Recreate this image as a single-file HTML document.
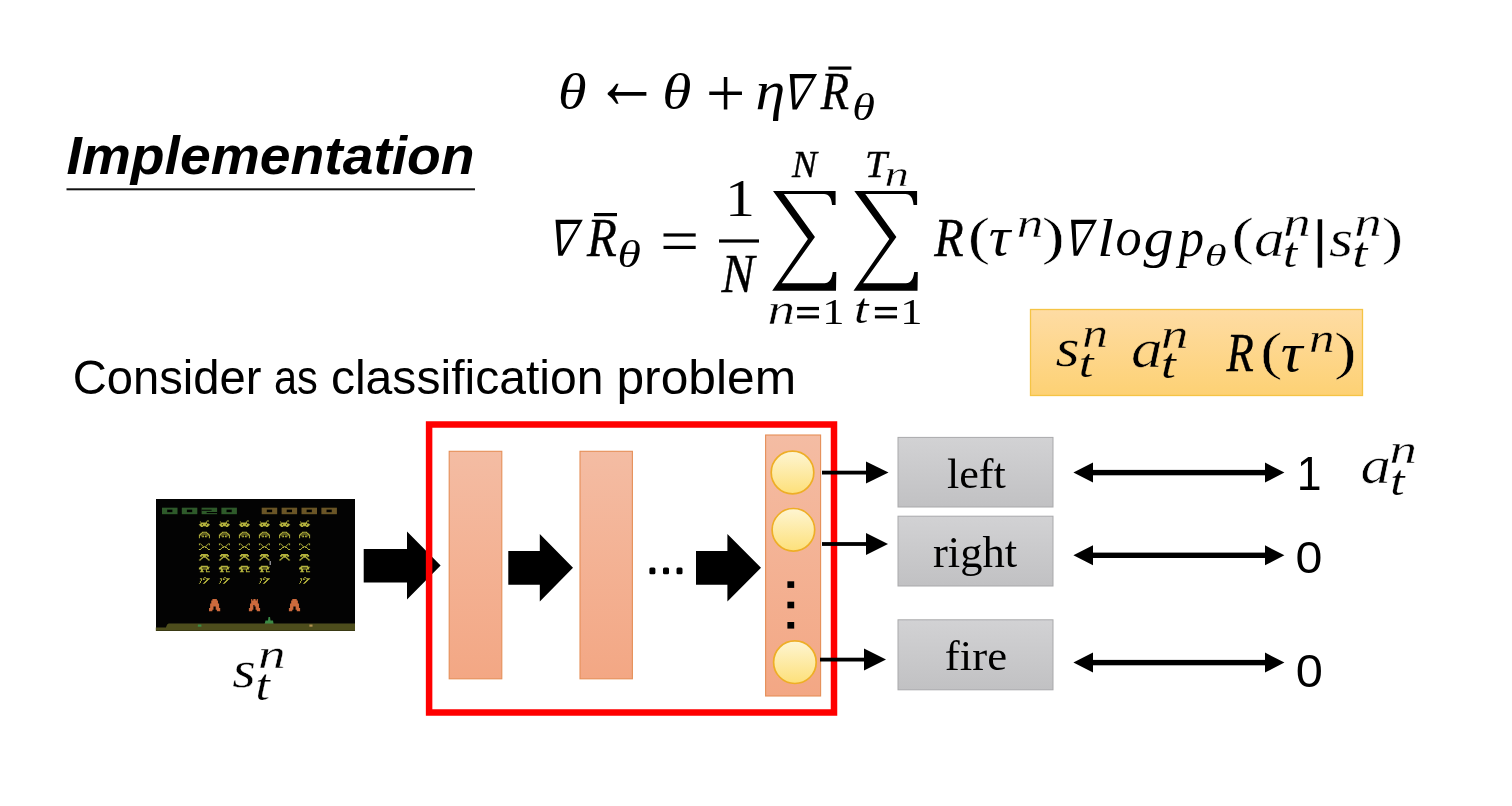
<!DOCTYPE html>
<html><head><meta charset="utf-8"><style>
html,body{margin:0;padding:0;background:#fff;width:1512px;height:806px;overflow:hidden}
svg{display:block;will-change:transform}
</style></head><body>
<svg width="1512" height="806" viewBox="0 0 1512 806">
<defs>
<filter id="bl" x="-0.1" y="-0.1" width="1.2" height="1.2"><feGaussianBlur stdDeviation="0.45"/></filter>
<linearGradient id="gy" x1="0" y1="0" x2="0" y2="1"><stop offset="0" stop-color="#fedca4"/><stop offset="1" stop-color="#fdd174"/></linearGradient>
<linearGradient id="gyu" gradientUnits="userSpaceOnUse" x1="0" y1="309.5" x2="0" y2="395.5"><stop offset="0" stop-color="#fedca4"/><stop offset="1" stop-color="#fdd174"/></linearGradient>
<linearGradient id="go" x1="0" y1="0" x2="0" y2="1"><stop offset="0" stop-color="#f4bca3"/><stop offset="1" stop-color="#f3a784"/></linearGradient>
<linearGradient id="gc" x1="0" y1="0" x2="0" y2="1"><stop offset="0" stop-color="#fef5d2"/><stop offset="1" stop-color="#fde07a"/></linearGradient>
<linearGradient id="gg" x1="0" y1="0" x2="0" y2="1"><stop offset="0" stop-color="#d2d2d4"/><stop offset="1" stop-color="#c1c1c3"/></linearGradient>
</defs>
<rect width="1512" height="806" fill="#fff"/>
<text transform="matrix(0.27626 0 0 0.27273 66.39 174.05)" font-family='"Liberation Sans"' font-style="italic" font-weight="bold" font-size="200" fill="#000">Implementation</text>
<rect x="66.50" y="188.30" width="408.50" height="2.00" fill="#111" />
<text transform="matrix(0.29048 0 0 0.25282 558.10 109.19)" font-family='"Liberation Serif"' font-style="italic" font-weight="normal" font-size="200" fill="#000">θ</text>
<text transform="matrix(0.32712 0 0 0.42609 594.29 108.16)" font-family='"Liberation Serif"' font-style="normal" font-weight="normal" font-size="200" fill="#000">←</text>
<text transform="matrix(0.29643 0 0 0.25282 662.34 109.19)" font-family='"Liberation Serif"' font-style="italic" font-weight="normal" font-size="200" fill="#000">θ</text>
<text transform="matrix(0.35161 0 0 0.34681 705.78 117.19)" font-family='"Liberation Serif"' font-style="normal" font-weight="normal" font-size="200" fill="#000">+</text>
<text transform="matrix(0.30000 0 0 0.27007 755.40 109.39)" font-family='"Liberation Serif"' font-style="italic" font-weight="normal" font-size="200" fill="#000">η</text>
<path fill-rule="evenodd" fill="#000" d="M789.70,74.10 L817.10,74.10 L796.90,109.60 L792.50,109.60 Z M794.60,78.20 L812.20,78.20 L795.70,105.10 Z"/>
<text transform="matrix(0.23167 0 0 0.26855 820.73 109.44)" font-family='"Liberation Serif"' font-style="italic" font-weight="normal" font-size="200" fill="#000" stroke="#000" stroke-width="1.489" stroke-linejoin="round">R</text>
<rect x="828.40" y="66.50" width="23.00" height="3.20" fill="#000" />
<text transform="matrix(0.23095 0 0 0.19014 852.29 119.62)" font-family='"Liberation Serif"' font-style="italic" font-weight="normal" font-size="200" fill="#000">θ</text>
<path fill-rule="evenodd" fill="#000" d="M555.50,219.80 L582.80,219.80 L562.67,255.80 L558.29,255.80 Z M560.38,223.96 L577.92,223.96 L561.48,251.24 Z"/>
<text transform="matrix(0.24417 0 0 0.27237 587.04 255.64)" font-family='"Liberation Serif"' font-style="italic" font-weight="normal" font-size="200" fill="#000" stroke="#000" stroke-width="1.469" stroke-linejoin="round">R</text>
<rect x="594.00" y="213.00" width="23.00" height="3.20" fill="#000" />
<text transform="matrix(0.23810 0 0 0.19366 617.62 267.11)" font-family='"Liberation Serif"' font-style="italic" font-weight="normal" font-size="200" fill="#000">θ</text>
<rect x="663.50" y="233.40" width="32.20" height="3.20" fill="#000" />
<rect x="663.50" y="245.80" width="32.20" height="3.20" fill="#000" />
<text transform="matrix(0.30000 0 0 0.26212 724.90 215.90)" font-family='"Liberation Serif"' font-style="normal" font-weight="normal" font-size="200" fill="#000">1</text>
<rect x="719.00" y="239.40" width="40.00" height="3.20" fill="#000" />
<text transform="matrix(0.24722 0 0 0.27084 721.45 291.64)" font-family='"Liberation Serif"' font-style="italic" font-weight="normal" font-size="200" fill="#000" stroke="#000" stroke-width="1.477" stroke-linejoin="round">N</text>
<path fill="#000" d="M773.00,191.00 L835.60,191.00 L835.60,205.00 L832.01,205.00 C831.51,198.00 829.02,193.90 824.04,193.90 L783.96,193.90 L814.97,237.00 L781.77,283.30 L824.54,283.30 C829.02,283.30 832.01,279.00 832.71,272.00 L836.30,272.00 L836.00,290.80 L772.20,290.80 L807.89,238.90 Z"/>
<path fill="#000" d="M854.30,191.00 L917.10,191.00 L917.10,205.00 L913.50,205.00 C913.00,198.00 910.50,193.90 905.50,193.90 L865.30,193.90 L896.40,237.00 L863.10,283.30 L906.00,283.30 C910.50,283.30 913.50,279.00 914.20,272.00 L917.80,272.00 L917.50,290.80 L853.50,290.80 L889.30,238.90 Z"/>
<text transform="matrix(0.18681 0 0 0.18458 791.99 177.24)" font-family='"Liberation Serif"' font-style="italic" font-weight="normal" font-size="200" fill="#000" stroke="#000" stroke-width="2.167" stroke-linejoin="round">N</text>
<text transform="matrix(0.19818 0 0 0.18458 865.12 177.24)" font-family='"Liberation Serif"' font-style="italic" font-weight="normal" font-size="200" fill="#000" stroke="#000" stroke-width="2.167" stroke-linejoin="round">T</text>
<text transform="matrix(0.24471 0 0 0.17574 884.59 185.86)" font-family='"Liberation Serif"' font-style="italic" font-weight="normal" font-size="200" fill="#000" stroke="#fff" stroke-width="2.276">n</text>
<text transform="matrix(0.27529 0 0 0.21830 767.47 323.86)" font-family='"Liberation Serif"' font-style="italic" font-weight="normal" font-size="200" fill="#000" stroke="#fff" stroke-width="1.832">n</text>
<rect x="797.10" y="306.90" width="21.90" height="3.30" fill="#000" />
<rect x="797.10" y="315.30" width="21.90" height="3.10" fill="#000" />
<text transform="matrix(0.22254 0 0 0.18258 822.32 323.70)" font-family='"Liberation Serif"' font-style="normal" font-weight="normal" font-size="200" fill="#000">1</text>
<text transform="matrix(0.25980 0 0 0.21061 854.09 323.34)" font-family='"Liberation Serif"' font-style="italic" font-weight="normal" font-size="200" fill="#000" stroke="#fff" stroke-width="0.712">t</text>
<rect x="874.90" y="306.90" width="22.10" height="3.30" fill="#000" />
<rect x="874.90" y="315.30" width="22.10" height="3.10" fill="#000" />
<text transform="matrix(0.22254 0 0 0.18258 900.32 323.70)" font-family='"Liberation Serif"' font-style="normal" font-weight="normal" font-size="200" fill="#000">1</text>
<text transform="matrix(0.24083 0 0 0.27618 934.14 256.14)" font-family='"Liberation Serif"' font-style="italic" font-weight="normal" font-size="200" fill="#000" stroke="#000" stroke-width="1.448" stroke-linejoin="round">R</text>
<text transform="matrix(0.33725 0 0 0.26758 967.71 253.69)" font-family='"Liberation Serif"' font-style="normal" font-weight="normal" font-size="200" fill="#000" stroke="#fff" stroke-width="1.869">(</text>
<text transform="matrix(0.30135 0 0 0.27660 988.79 255.45)" font-family='"Liberation Serif"' font-style="italic" font-weight="normal" font-size="200" fill="#000">τ</text>
<text transform="matrix(0.26588 0 0 0.21404 1016.64 237.46)" font-family='"Liberation Serif"' font-style="italic" font-weight="normal" font-size="200" fill="#000" stroke="#fff" stroke-width="1.869">n</text>
<text transform="matrix(0.34615 0 0 0.26758 1041.67 253.69)" font-family='"Liberation Serif"' font-style="normal" font-weight="normal" font-size="200" fill="#000" stroke="#fff" stroke-width="1.869">)</text>
<path fill-rule="evenodd" fill="#000" d="M1071.00,219.80 L1097.00,219.80 L1077.83,255.80 L1073.66,255.80 Z M1075.65,223.96 L1092.35,223.96 L1076.69,251.24 Z"/>
<text transform="matrix(0.29750 0 0 0.26619 1097.13 256.00)" font-family='"Liberation Serif"' font-style="italic" font-weight="normal" font-size="200" fill="#000">l</text>
<text transform="matrix(0.26136 0 0 0.27083 1115.43 255.46)" font-family='"Liberation Serif"' font-style="italic" font-weight="normal" font-size="200" fill="#000">o</text>
<text transform="matrix(0.30213 0 0 0.27737 1143.60 256.07)" font-family='"Liberation Serif"' font-style="italic" font-weight="normal" font-size="200" fill="#000">g</text>
<text transform="matrix(0.25283 0 0 0.27737 1178.73 256.07)" font-family='"Liberation Serif"' font-style="italic" font-weight="normal" font-size="200" fill="#000">p</text>
<text transform="matrix(0.22262 0 0 0.15669 1204.77 265.69)" font-family='"Liberation Serif"' font-style="italic" font-weight="normal" font-size="200" fill="#000">θ</text>
<text transform="matrix(0.34314 0 0 0.26593 1231.26 253.76)" font-family='"Liberation Serif"' font-style="normal" font-weight="normal" font-size="200" fill="#000" stroke="#fff" stroke-width="1.880">(</text>
<text transform="matrix(0.30756 0 0 0.26500 1253.88 256.09)" font-family='"Liberation Serif"' font-style="italic" font-weight="normal" font-size="200" fill="#000" stroke="#fff" stroke-width="2.075">a</text>
<text transform="matrix(0.27529 0 0 0.20447 1283.37 236.36)" font-family='"Liberation Serif"' font-style="italic" font-weight="normal" font-size="200" fill="#000" stroke="#fff" stroke-width="1.956">n</text>
<text transform="matrix(0.25588 0 0 0.21148 1283.12 267.34)" font-family='"Liberation Serif"' font-style="italic" font-weight="normal" font-size="200" fill="#000" stroke="#fff" stroke-width="0.709">t</text>
<rect x="1317.70" y="219.30" width="4.50" height="48.40" fill="#000" />
<text transform="matrix(0.31000 0 0 0.26792 1328.88 256.02)" font-family='"Liberation Serif"' font-style="italic" font-weight="normal" font-size="200" fill="#000" stroke="#fff" stroke-width="1.493">s</text>
<text transform="matrix(0.27529 0 0 0.20447 1354.17 236.36)" font-family='"Liberation Serif"' font-style="italic" font-weight="normal" font-size="200" fill="#000" stroke="#fff" stroke-width="1.956">n</text>
<text transform="matrix(0.27157 0 0 0.21148 1352.18 267.34)" font-family='"Liberation Serif"' font-style="italic" font-weight="normal" font-size="200" fill="#000" stroke="#fff" stroke-width="0.709">t</text>
<text transform="matrix(0.32115 0 0 0.26758 1381.82 254.29)" font-family='"Liberation Serif"' font-style="normal" font-weight="normal" font-size="200" fill="#000" stroke="#fff" stroke-width="1.869">)</text>
<rect x="1030.5" y="309.5" width="332" height="86" fill="url(#gy)" stroke="#f5c445" stroke-width="1.3"/>
<text transform="matrix(0.31000 0 0 0.27208 1055.58 366.22)" font-family='"Liberation Serif"' font-style="italic" font-weight="normal" font-size="200" fill="#000" stroke="#fdd68b" stroke-width="1.470">s</text>
<text transform="matrix(0.25765 0 0 0.21404 1082.20 347.36)" font-family='"Liberation Serif"' font-style="italic" font-weight="normal" font-size="200" fill="#000" stroke="#fed894" stroke-width="1.869">n</text>
<text transform="matrix(0.26569 0 0 0.20365 1078.73 377.15)" font-family='"Liberation Serif"' font-style="italic" font-weight="normal" font-size="200" fill="#000" stroke="#fdd585" stroke-width="0.737">t</text>
<text transform="matrix(0.31686 0 0 0.27333 1131.12 367.27)" font-family='"Liberation Serif"' font-style="italic" font-weight="normal" font-size="200" fill="#000" stroke="#fdd68b" stroke-width="2.012">a</text>
<text transform="matrix(0.27412 0 0 0.20872 1160.88 347.86)" font-family='"Liberation Serif"' font-style="italic" font-weight="normal" font-size="200" fill="#000" stroke="#fed894" stroke-width="1.916">n</text>
<text transform="matrix(0.26765 0 0 0.20800 1161.02 378.14)" font-family='"Liberation Serif"' font-style="italic" font-weight="normal" font-size="200" fill="#000" stroke="#fdd584" stroke-width="0.721">t</text>
<text transform="matrix(0.22333 0 0 0.26931 1226.42 371.44)" font-family='"Liberation Serif"' font-style="italic" font-weight="normal" font-size="200" fill="#000" stroke="#000" stroke-width="1.485" stroke-linejoin="round">R</text>
<text transform="matrix(0.33137 0 0 0.26868 1260.17 369.15)" font-family='"Liberation Serif"' font-style="normal" font-weight="normal" font-size="200" fill="#000" stroke="#fdd68a" stroke-width="1.861">(</text>
<text transform="matrix(0.30405 0 0 0.27234 1280.68 371.06)" font-family='"Liberation Serif"' font-style="italic" font-weight="normal" font-size="200" fill="#000">τ</text>
<text transform="matrix(0.25529 0 0 0.21404 1309.01 351.96)" font-family='"Liberation Serif"' font-style="italic" font-weight="normal" font-size="200" fill="#000" stroke="#fed892" stroke-width="1.869">n</text>
<text transform="matrix(0.33846 0 0 0.26868 1334.12 369.15)" font-family='"Liberation Serif"' font-style="normal" font-weight="normal" font-size="200" fill="#000" stroke="#fdd68a" stroke-width="1.861">)</text>
<text transform="matrix(0.23590 0 0 0.24250 72.74 394.00)" font-family='"Liberation Sans"' font-style="normal" font-weight="normal" font-size="200" fill="#000" >Consider</text>
<text transform="matrix(0.20765 0 0 0.24250 273.94 394.00)" font-family='"Liberation Sans"' font-style="normal" font-weight="normal" font-size="200" fill="#000" >as</text>
<text transform="matrix(0.24052 0 0 0.24250 330.88 394.00)" font-family='"Liberation Sans"' font-style="normal" font-weight="normal" font-size="200" fill="#000" >classification</text>
<text transform="matrix(0.24864 0 0 0.24250 616.47 394.00)" font-family='"Liberation Sans"' font-style="normal" font-weight="normal" font-size="200" fill="#000" >problem</text>
<rect x="156.00" y="499.00" width="199.00" height="132.00" fill="#030303" />
<g filter="url(#bl)">
<rect x="162.0" y="507.7" width="15.5" height="6.5" fill="#2e5a2a"/><rect x="167.1" y="509.6" width="5.3" height="2.6" fill="#050505"/>
<rect x="181.8" y="507.7" width="15.5" height="6.5" fill="#2e5a2a"/><rect x="186.9" y="509.6" width="5.3" height="2.6" fill="#050505"/>
<rect x="201.6" y="507.7" width="15.5" height="6.5" fill="#2e5a2a"/><rect x="201.6" y="509.7" width="10" height="1.1" fill="#050505"/><rect x="206.6" y="512" width="10.5" height="1.1" fill="#050505"/>
<rect x="221.4" y="507.7" width="15.5" height="6.5" fill="#2e5a2a"/><rect x="226.5" y="509.6" width="5.3" height="2.6" fill="#050505"/>
<rect x="261.7" y="507.7" width="15.5" height="6.5" fill="#6a5526"/><rect x="266.8" y="509.6" width="5.3" height="2.6" fill="#050505"/>
<rect x="281.59999999999997" y="507.7" width="15.5" height="6.5" fill="#6a5526"/><rect x="286.7" y="509.6" width="5.3" height="2.6" fill="#050505"/>
<rect x="301.5" y="507.7" width="15.5" height="6.5" fill="#6a5526"/><rect x="306.6" y="509.6" width="5.3" height="2.6" fill="#050505"/>
<rect x="321.4" y="507.7" width="15.5" height="6.5" fill="#6a5526"/><rect x="326.5" y="509.6" width="5.3" height="2.6" fill="#050505"/>
<path fill="#b4b23c" d="M206.90,520.60h2.00v0.93h-2.00zM199.90,521.53h1.00v0.93h-1.00zM205.90,521.53h1.00v0.93h-1.00zM200.90,522.46h6.00v0.93h-6.00zM199.90,523.39h9.00v0.93h-9.00zM198.90,524.32h3.00v0.93h-3.00zM202.90,524.32h3.00v0.93h-3.00zM206.90,524.32h3.00v0.93h-3.00zM199.90,525.25h9.00v0.93h-9.00zM200.90,526.18h2.00v0.93h-2.00zM205.90,526.18h2.00v0.93h-2.00z"/>
<path fill="#b4b23c" d="M226.90,520.60h2.00v0.93h-2.00zM219.90,521.53h1.00v0.93h-1.00zM225.90,521.53h1.00v0.93h-1.00zM220.90,522.46h6.00v0.93h-6.00zM219.90,523.39h9.00v0.93h-9.00zM218.90,524.32h3.00v0.93h-3.00zM222.90,524.32h3.00v0.93h-3.00zM226.90,524.32h3.00v0.93h-3.00zM219.90,525.25h9.00v0.93h-9.00zM220.90,526.18h2.00v0.93h-2.00zM225.90,526.18h2.00v0.93h-2.00z"/>
<path fill="#b4b23c" d="M246.90,520.60h2.00v0.93h-2.00zM239.90,521.53h1.00v0.93h-1.00zM245.90,521.53h1.00v0.93h-1.00zM240.90,522.46h6.00v0.93h-6.00zM239.90,523.39h9.00v0.93h-9.00zM238.90,524.32h3.00v0.93h-3.00zM242.90,524.32h3.00v0.93h-3.00zM246.90,524.32h3.00v0.93h-3.00zM239.90,525.25h9.00v0.93h-9.00zM240.90,526.18h2.00v0.93h-2.00zM245.90,526.18h2.00v0.93h-2.00z"/>
<path fill="#b4b23c" d="M266.90,520.60h2.00v0.93h-2.00zM259.90,521.53h1.00v0.93h-1.00zM265.90,521.53h1.00v0.93h-1.00zM260.90,522.46h6.00v0.93h-6.00zM259.90,523.39h9.00v0.93h-9.00zM258.90,524.32h3.00v0.93h-3.00zM262.90,524.32h3.00v0.93h-3.00zM266.90,524.32h3.00v0.93h-3.00zM259.90,525.25h9.00v0.93h-9.00zM260.90,526.18h2.00v0.93h-2.00zM265.90,526.18h2.00v0.93h-2.00z"/>
<path fill="#b4b23c" d="M287.10,520.60h2.00v0.93h-2.00zM280.10,521.53h1.00v0.93h-1.00zM286.10,521.53h1.00v0.93h-1.00zM281.10,522.46h6.00v0.93h-6.00zM280.10,523.39h9.00v0.93h-9.00zM279.10,524.32h3.00v0.93h-3.00zM283.10,524.32h3.00v0.93h-3.00zM287.10,524.32h3.00v0.93h-3.00zM280.10,525.25h9.00v0.93h-9.00zM281.10,526.18h2.00v0.93h-2.00zM286.10,526.18h2.00v0.93h-2.00z"/>
<path fill="#b4b23c" d="M307.10,520.60h2.00v0.93h-2.00zM300.10,521.53h1.00v0.93h-1.00zM306.10,521.53h1.00v0.93h-1.00zM301.10,522.46h6.00v0.93h-6.00zM300.10,523.39h9.00v0.93h-9.00zM299.10,524.32h3.00v0.93h-3.00zM303.10,524.32h3.00v0.93h-3.00zM307.10,524.32h3.00v0.93h-3.00zM300.10,525.25h9.00v0.93h-9.00zM301.10,526.18h2.00v0.93h-2.00zM306.10,526.18h2.00v0.93h-2.00z"/>
<path fill="#b4b23c" d="M201.90,531.70h5.00v0.93h-5.00zM200.90,532.63h2.00v0.93h-2.00zM205.90,532.63h2.00v0.93h-2.00zM199.90,533.56h2.00v0.93h-2.00zM202.90,533.56h3.00v0.93h-3.00zM206.90,533.56h2.00v0.93h-2.00zM198.90,534.49h2.00v0.93h-2.00zM201.90,534.49h1.00v0.93h-1.00zM205.90,534.49h1.00v0.93h-1.00zM207.90,534.49h2.00v0.93h-2.00zM198.90,535.42h1.00v0.93h-1.00zM200.90,535.42h1.00v0.93h-1.00zM202.90,535.42h1.00v0.93h-1.00zM204.90,535.42h1.00v0.93h-1.00zM206.90,535.42h1.00v0.93h-1.00zM208.90,535.42h1.00v0.93h-1.00zM198.90,536.35h1.00v0.93h-1.00zM201.90,536.35h2.00v0.93h-2.00zM204.90,536.35h2.00v0.93h-2.00zM208.90,536.35h1.00v0.93h-1.00zM198.90,537.28h1.00v0.93h-1.00zM208.90,537.28h1.00v0.93h-1.00z"/>
<path fill="#b4b23c" d="M221.90,531.70h5.00v0.93h-5.00zM220.90,532.63h2.00v0.93h-2.00zM225.90,532.63h2.00v0.93h-2.00zM219.90,533.56h2.00v0.93h-2.00zM222.90,533.56h3.00v0.93h-3.00zM226.90,533.56h2.00v0.93h-2.00zM218.90,534.49h2.00v0.93h-2.00zM221.90,534.49h1.00v0.93h-1.00zM225.90,534.49h1.00v0.93h-1.00zM227.90,534.49h2.00v0.93h-2.00zM218.90,535.42h1.00v0.93h-1.00zM220.90,535.42h1.00v0.93h-1.00zM222.90,535.42h1.00v0.93h-1.00zM224.90,535.42h1.00v0.93h-1.00zM226.90,535.42h1.00v0.93h-1.00zM228.90,535.42h1.00v0.93h-1.00zM218.90,536.35h1.00v0.93h-1.00zM221.90,536.35h2.00v0.93h-2.00zM224.90,536.35h2.00v0.93h-2.00zM228.90,536.35h1.00v0.93h-1.00zM218.90,537.28h1.00v0.93h-1.00zM228.90,537.28h1.00v0.93h-1.00z"/>
<path fill="#b4b23c" d="M241.90,531.70h5.00v0.93h-5.00zM240.90,532.63h2.00v0.93h-2.00zM245.90,532.63h2.00v0.93h-2.00zM239.90,533.56h2.00v0.93h-2.00zM242.90,533.56h3.00v0.93h-3.00zM246.90,533.56h2.00v0.93h-2.00zM238.90,534.49h2.00v0.93h-2.00zM241.90,534.49h1.00v0.93h-1.00zM245.90,534.49h1.00v0.93h-1.00zM247.90,534.49h2.00v0.93h-2.00zM238.90,535.42h1.00v0.93h-1.00zM240.90,535.42h1.00v0.93h-1.00zM242.90,535.42h1.00v0.93h-1.00zM244.90,535.42h1.00v0.93h-1.00zM246.90,535.42h1.00v0.93h-1.00zM248.90,535.42h1.00v0.93h-1.00zM238.90,536.35h1.00v0.93h-1.00zM241.90,536.35h2.00v0.93h-2.00zM244.90,536.35h2.00v0.93h-2.00zM248.90,536.35h1.00v0.93h-1.00zM238.90,537.28h1.00v0.93h-1.00zM248.90,537.28h1.00v0.93h-1.00z"/>
<path fill="#b4b23c" d="M261.90,531.70h5.00v0.93h-5.00zM260.90,532.63h2.00v0.93h-2.00zM265.90,532.63h2.00v0.93h-2.00zM259.90,533.56h2.00v0.93h-2.00zM262.90,533.56h3.00v0.93h-3.00zM266.90,533.56h2.00v0.93h-2.00zM258.90,534.49h2.00v0.93h-2.00zM261.90,534.49h1.00v0.93h-1.00zM265.90,534.49h1.00v0.93h-1.00zM267.90,534.49h2.00v0.93h-2.00zM258.90,535.42h1.00v0.93h-1.00zM260.90,535.42h1.00v0.93h-1.00zM262.90,535.42h1.00v0.93h-1.00zM264.90,535.42h1.00v0.93h-1.00zM266.90,535.42h1.00v0.93h-1.00zM268.90,535.42h1.00v0.93h-1.00zM258.90,536.35h1.00v0.93h-1.00zM261.90,536.35h2.00v0.93h-2.00zM264.90,536.35h2.00v0.93h-2.00zM268.90,536.35h1.00v0.93h-1.00zM258.90,537.28h1.00v0.93h-1.00zM268.90,537.28h1.00v0.93h-1.00z"/>
<path fill="#b4b23c" d="M282.10,531.70h5.00v0.93h-5.00zM281.10,532.63h2.00v0.93h-2.00zM286.10,532.63h2.00v0.93h-2.00zM280.10,533.56h2.00v0.93h-2.00zM283.10,533.56h3.00v0.93h-3.00zM287.10,533.56h2.00v0.93h-2.00zM279.10,534.49h2.00v0.93h-2.00zM282.10,534.49h1.00v0.93h-1.00zM286.10,534.49h1.00v0.93h-1.00zM288.10,534.49h2.00v0.93h-2.00zM279.10,535.42h1.00v0.93h-1.00zM281.10,535.42h1.00v0.93h-1.00zM283.10,535.42h1.00v0.93h-1.00zM285.10,535.42h1.00v0.93h-1.00zM287.10,535.42h1.00v0.93h-1.00zM289.10,535.42h1.00v0.93h-1.00zM279.10,536.35h1.00v0.93h-1.00zM282.10,536.35h2.00v0.93h-2.00zM285.10,536.35h2.00v0.93h-2.00zM289.10,536.35h1.00v0.93h-1.00zM279.10,537.28h1.00v0.93h-1.00zM289.10,537.28h1.00v0.93h-1.00z"/>
<path fill="#b4b23c" d="M302.10,531.70h5.00v0.93h-5.00zM301.10,532.63h2.00v0.93h-2.00zM306.10,532.63h2.00v0.93h-2.00zM300.10,533.56h2.00v0.93h-2.00zM303.10,533.56h3.00v0.93h-3.00zM307.10,533.56h2.00v0.93h-2.00zM299.10,534.49h2.00v0.93h-2.00zM302.10,534.49h1.00v0.93h-1.00zM306.10,534.49h1.00v0.93h-1.00zM308.10,534.49h2.00v0.93h-2.00zM299.10,535.42h1.00v0.93h-1.00zM301.10,535.42h1.00v0.93h-1.00zM303.10,535.42h1.00v0.93h-1.00zM305.10,535.42h1.00v0.93h-1.00zM307.10,535.42h1.00v0.93h-1.00zM309.10,535.42h1.00v0.93h-1.00zM299.10,536.35h1.00v0.93h-1.00zM302.10,536.35h2.00v0.93h-2.00zM305.10,536.35h2.00v0.93h-2.00zM309.10,536.35h1.00v0.93h-1.00zM299.10,537.28h1.00v0.93h-1.00zM309.10,537.28h1.00v0.93h-1.00z"/>
<path fill="#b4b23c" d="M198.90,543.40h2.00v0.93h-2.00zM207.90,543.40h2.00v0.93h-2.00zM198.90,544.33h1.00v0.93h-1.00zM200.90,544.33h1.00v0.93h-1.00zM206.90,544.33h1.00v0.93h-1.00zM208.90,544.33h1.00v0.93h-1.00zM201.90,545.26h1.00v0.93h-1.00zM205.90,545.26h1.00v0.93h-1.00zM202.90,546.19h3.00v0.93h-3.00zM201.90,547.12h2.00v0.93h-2.00zM204.90,547.12h2.00v0.93h-2.00zM200.90,548.05h1.00v0.93h-1.00zM206.90,548.05h1.00v0.93h-1.00zM198.90,548.98h2.00v0.93h-2.00zM207.90,548.98h2.00v0.93h-2.00z"/>
<path fill="#b4b23c" d="M218.90,543.40h2.00v0.93h-2.00zM227.90,543.40h2.00v0.93h-2.00zM218.90,544.33h1.00v0.93h-1.00zM220.90,544.33h1.00v0.93h-1.00zM226.90,544.33h1.00v0.93h-1.00zM228.90,544.33h1.00v0.93h-1.00zM221.90,545.26h1.00v0.93h-1.00zM225.90,545.26h1.00v0.93h-1.00zM222.90,546.19h3.00v0.93h-3.00zM221.90,547.12h2.00v0.93h-2.00zM224.90,547.12h2.00v0.93h-2.00zM220.90,548.05h1.00v0.93h-1.00zM226.90,548.05h1.00v0.93h-1.00zM218.90,548.98h2.00v0.93h-2.00zM227.90,548.98h2.00v0.93h-2.00z"/>
<path fill="#b4b23c" d="M238.90,543.40h2.00v0.93h-2.00zM247.90,543.40h2.00v0.93h-2.00zM238.90,544.33h1.00v0.93h-1.00zM240.90,544.33h1.00v0.93h-1.00zM246.90,544.33h1.00v0.93h-1.00zM248.90,544.33h1.00v0.93h-1.00zM241.90,545.26h1.00v0.93h-1.00zM245.90,545.26h1.00v0.93h-1.00zM242.90,546.19h3.00v0.93h-3.00zM241.90,547.12h2.00v0.93h-2.00zM244.90,547.12h2.00v0.93h-2.00zM240.90,548.05h1.00v0.93h-1.00zM246.90,548.05h1.00v0.93h-1.00zM238.90,548.98h2.00v0.93h-2.00zM247.90,548.98h2.00v0.93h-2.00z"/>
<path fill="#b4b23c" d="M258.90,543.40h2.00v0.93h-2.00zM267.90,543.40h2.00v0.93h-2.00zM258.90,544.33h1.00v0.93h-1.00zM260.90,544.33h1.00v0.93h-1.00zM266.90,544.33h1.00v0.93h-1.00zM268.90,544.33h1.00v0.93h-1.00zM261.90,545.26h1.00v0.93h-1.00zM265.90,545.26h1.00v0.93h-1.00zM262.90,546.19h3.00v0.93h-3.00zM261.90,547.12h2.00v0.93h-2.00zM264.90,547.12h2.00v0.93h-2.00zM260.90,548.05h1.00v0.93h-1.00zM266.90,548.05h1.00v0.93h-1.00zM258.90,548.98h2.00v0.93h-2.00zM267.90,548.98h2.00v0.93h-2.00z"/>
<path fill="#b4b23c" d="M279.10,543.40h2.00v0.93h-2.00zM288.10,543.40h2.00v0.93h-2.00zM279.10,544.33h1.00v0.93h-1.00zM281.10,544.33h1.00v0.93h-1.00zM287.10,544.33h1.00v0.93h-1.00zM289.10,544.33h1.00v0.93h-1.00zM282.10,545.26h1.00v0.93h-1.00zM286.10,545.26h1.00v0.93h-1.00zM283.10,546.19h3.00v0.93h-3.00zM282.10,547.12h2.00v0.93h-2.00zM285.10,547.12h2.00v0.93h-2.00zM281.10,548.05h1.00v0.93h-1.00zM287.10,548.05h1.00v0.93h-1.00zM279.10,548.98h2.00v0.93h-2.00zM288.10,548.98h2.00v0.93h-2.00z"/>
<path fill="#b4b23c" d="M299.10,543.40h2.00v0.93h-2.00zM308.10,543.40h2.00v0.93h-2.00zM299.10,544.33h1.00v0.93h-1.00zM301.10,544.33h1.00v0.93h-1.00zM307.10,544.33h1.00v0.93h-1.00zM309.10,544.33h1.00v0.93h-1.00zM302.10,545.26h1.00v0.93h-1.00zM306.10,545.26h1.00v0.93h-1.00zM303.10,546.19h3.00v0.93h-3.00zM302.10,547.12h2.00v0.93h-2.00zM305.10,547.12h2.00v0.93h-2.00zM301.10,548.05h1.00v0.93h-1.00zM307.10,548.05h1.00v0.93h-1.00zM299.10,548.98h2.00v0.93h-2.00zM308.10,548.98h2.00v0.93h-2.00z"/>
<path fill="#b4b23c" d="M200.90,554.00h7.00v0.93h-7.00zM199.90,554.93h9.00v0.93h-9.00zM199.90,555.86h2.00v0.93h-2.00zM202.90,555.86h3.00v0.93h-3.00zM206.90,555.86h2.00v0.93h-2.00zM201.90,556.79h5.00v0.93h-5.00zM200.90,557.72h2.00v0.93h-2.00zM205.90,557.72h2.00v0.93h-2.00zM199.90,558.65h2.00v0.93h-2.00zM206.90,558.65h2.00v0.93h-2.00zM198.90,559.58h2.00v0.93h-2.00zM207.90,559.58h2.00v0.93h-2.00z"/>
<path fill="#b4b23c" d="M220.90,554.00h7.00v0.93h-7.00zM219.90,554.93h9.00v0.93h-9.00zM219.90,555.86h2.00v0.93h-2.00zM222.90,555.86h3.00v0.93h-3.00zM226.90,555.86h2.00v0.93h-2.00zM221.90,556.79h5.00v0.93h-5.00zM220.90,557.72h2.00v0.93h-2.00zM225.90,557.72h2.00v0.93h-2.00zM219.90,558.65h2.00v0.93h-2.00zM226.90,558.65h2.00v0.93h-2.00zM218.90,559.58h2.00v0.93h-2.00zM227.90,559.58h2.00v0.93h-2.00z"/>
<path fill="#b4b23c" d="M240.90,554.00h7.00v0.93h-7.00zM239.90,554.93h9.00v0.93h-9.00zM239.90,555.86h2.00v0.93h-2.00zM242.90,555.86h3.00v0.93h-3.00zM246.90,555.86h2.00v0.93h-2.00zM241.90,556.79h5.00v0.93h-5.00zM240.90,557.72h2.00v0.93h-2.00zM245.90,557.72h2.00v0.93h-2.00zM239.90,558.65h2.00v0.93h-2.00zM246.90,558.65h2.00v0.93h-2.00zM238.90,559.58h2.00v0.93h-2.00zM247.90,559.58h2.00v0.93h-2.00z"/>
<path fill="#b4b23c" d="M260.90,554.00h7.00v0.93h-7.00zM259.90,554.93h9.00v0.93h-9.00zM259.90,555.86h2.00v0.93h-2.00zM262.90,555.86h3.00v0.93h-3.00zM266.90,555.86h2.00v0.93h-2.00zM261.90,556.79h5.00v0.93h-5.00zM260.90,557.72h2.00v0.93h-2.00zM265.90,557.72h2.00v0.93h-2.00zM259.90,558.65h2.00v0.93h-2.00zM266.90,558.65h2.00v0.93h-2.00zM258.90,559.58h2.00v0.93h-2.00zM267.90,559.58h2.00v0.93h-2.00z"/>
<path fill="#b4b23c" d="M281.10,554.00h7.00v0.93h-7.00zM280.10,554.93h9.00v0.93h-9.00zM280.10,555.86h2.00v0.93h-2.00zM283.10,555.86h3.00v0.93h-3.00zM287.10,555.86h2.00v0.93h-2.00zM282.10,556.79h5.00v0.93h-5.00zM281.10,557.72h2.00v0.93h-2.00zM286.10,557.72h2.00v0.93h-2.00zM280.10,558.65h2.00v0.93h-2.00zM287.10,558.65h2.00v0.93h-2.00zM279.10,559.58h2.00v0.93h-2.00zM288.10,559.58h2.00v0.93h-2.00z"/>
<path fill="#b4b23c" d="M301.10,554.00h7.00v0.93h-7.00zM300.10,554.93h9.00v0.93h-9.00zM300.10,555.86h2.00v0.93h-2.00zM303.10,555.86h3.00v0.93h-3.00zM307.10,555.86h2.00v0.93h-2.00zM302.10,556.79h5.00v0.93h-5.00zM301.10,557.72h2.00v0.93h-2.00zM306.10,557.72h2.00v0.93h-2.00zM300.10,558.65h2.00v0.93h-2.00zM307.10,558.65h2.00v0.93h-2.00zM299.10,559.58h2.00v0.93h-2.00zM308.10,559.58h2.00v0.93h-2.00z"/>
<path fill="#b4b23c" d="M200.90,565.70h7.00v0.93h-7.00zM199.90,566.63h10.00v0.93h-10.00zM198.90,567.56h3.00v0.93h-3.00zM206.90,567.56h2.00v0.93h-2.00zM198.90,568.49h10.00v0.93h-10.00zM200.90,569.42h2.00v0.93h-2.00zM205.90,569.42h1.00v0.93h-1.00zM200.90,570.35h2.00v0.93h-2.00zM205.90,570.35h1.00v0.93h-1.00zM199.90,571.28h4.00v0.93h-4.00zM205.90,571.28h4.00v0.93h-4.00z"/>
<path fill="#b4b23c" d="M220.90,565.70h7.00v0.93h-7.00zM219.90,566.63h10.00v0.93h-10.00zM218.90,567.56h3.00v0.93h-3.00zM226.90,567.56h2.00v0.93h-2.00zM218.90,568.49h10.00v0.93h-10.00zM220.90,569.42h2.00v0.93h-2.00zM225.90,569.42h1.00v0.93h-1.00zM220.90,570.35h2.00v0.93h-2.00zM225.90,570.35h1.00v0.93h-1.00zM219.90,571.28h4.00v0.93h-4.00zM225.90,571.28h4.00v0.93h-4.00z"/>
<path fill="#b4b23c" d="M240.90,565.70h7.00v0.93h-7.00zM239.90,566.63h10.00v0.93h-10.00zM238.90,567.56h3.00v0.93h-3.00zM246.90,567.56h2.00v0.93h-2.00zM238.90,568.49h10.00v0.93h-10.00zM240.90,569.42h2.00v0.93h-2.00zM245.90,569.42h1.00v0.93h-1.00zM240.90,570.35h2.00v0.93h-2.00zM245.90,570.35h1.00v0.93h-1.00zM239.90,571.28h4.00v0.93h-4.00zM245.90,571.28h4.00v0.93h-4.00z"/>
<path fill="#b4b23c" d="M260.90,565.70h7.00v0.93h-7.00zM259.90,566.63h10.00v0.93h-10.00zM258.90,567.56h3.00v0.93h-3.00zM266.90,567.56h2.00v0.93h-2.00zM258.90,568.49h10.00v0.93h-10.00zM260.90,569.42h2.00v0.93h-2.00zM265.90,569.42h1.00v0.93h-1.00zM260.90,570.35h2.00v0.93h-2.00zM265.90,570.35h1.00v0.93h-1.00zM259.90,571.28h4.00v0.93h-4.00zM265.90,571.28h4.00v0.93h-4.00z"/>
<path fill="#b4b23c" d="M301.10,565.70h7.00v0.93h-7.00zM300.10,566.63h10.00v0.93h-10.00zM299.10,567.56h3.00v0.93h-3.00zM307.10,567.56h2.00v0.93h-2.00zM299.10,568.49h10.00v0.93h-10.00zM301.10,569.42h2.00v0.93h-2.00zM306.10,569.42h1.00v0.93h-1.00zM301.10,570.35h2.00v0.93h-2.00zM306.10,570.35h1.00v0.93h-1.00zM300.10,571.28h4.00v0.93h-4.00zM306.10,571.28h4.00v0.93h-4.00z"/>
<path fill="#b4b23c" d="M203.90,577.30h2.00v0.93h-2.00zM199.90,578.23h2.00v0.93h-2.00zM202.90,578.23h1.00v0.93h-1.00zM205.90,578.23h4.00v0.93h-4.00zM200.90,579.16h1.00v0.93h-1.00zM202.90,579.16h2.00v0.93h-2.00zM206.90,579.16h2.00v0.93h-2.00zM200.90,580.09h1.00v0.93h-1.00zM205.90,580.09h2.00v0.93h-2.00zM199.90,581.02h1.00v0.93h-1.00zM204.90,581.02h2.00v0.93h-2.00zM199.90,581.95h1.00v0.93h-1.00zM203.90,581.95h2.00v0.93h-2.00zM198.90,582.88h1.00v0.93h-1.00zM202.90,582.88h2.00v0.93h-2.00z"/>
<path fill="#b4b23c" d="M223.90,577.30h2.00v0.93h-2.00zM219.90,578.23h2.00v0.93h-2.00zM222.90,578.23h1.00v0.93h-1.00zM225.90,578.23h4.00v0.93h-4.00zM220.90,579.16h1.00v0.93h-1.00zM222.90,579.16h2.00v0.93h-2.00zM226.90,579.16h2.00v0.93h-2.00zM220.90,580.09h1.00v0.93h-1.00zM225.90,580.09h2.00v0.93h-2.00zM219.90,581.02h1.00v0.93h-1.00zM224.90,581.02h2.00v0.93h-2.00zM219.90,581.95h1.00v0.93h-1.00zM223.90,581.95h2.00v0.93h-2.00zM218.90,582.88h1.00v0.93h-1.00zM222.90,582.88h2.00v0.93h-2.00z"/>
<path fill="#b4b23c" d="M263.90,577.30h2.00v0.93h-2.00zM259.90,578.23h2.00v0.93h-2.00zM262.90,578.23h1.00v0.93h-1.00zM265.90,578.23h4.00v0.93h-4.00zM260.90,579.16h1.00v0.93h-1.00zM262.90,579.16h2.00v0.93h-2.00zM266.90,579.16h2.00v0.93h-2.00zM260.90,580.09h1.00v0.93h-1.00zM265.90,580.09h2.00v0.93h-2.00zM259.90,581.02h1.00v0.93h-1.00zM264.90,581.02h2.00v0.93h-2.00zM259.90,581.95h1.00v0.93h-1.00zM263.90,581.95h2.00v0.93h-2.00zM258.90,582.88h1.00v0.93h-1.00zM262.90,582.88h2.00v0.93h-2.00z"/>
<path fill="#b4b23c" d="M304.10,577.30h2.00v0.93h-2.00zM300.10,578.23h2.00v0.93h-2.00zM303.10,578.23h1.00v0.93h-1.00zM306.10,578.23h4.00v0.93h-4.00zM301.10,579.16h1.00v0.93h-1.00zM303.10,579.16h2.00v0.93h-2.00zM307.10,579.16h2.00v0.93h-2.00zM301.10,580.09h1.00v0.93h-1.00zM306.10,580.09h2.00v0.93h-2.00zM300.10,581.02h1.00v0.93h-1.00zM305.10,581.02h2.00v0.93h-2.00zM300.10,581.95h1.00v0.93h-1.00zM304.10,581.95h2.00v0.93h-2.00zM299.10,582.88h1.00v0.93h-1.00zM303.10,582.88h2.00v0.93h-2.00z"/>
<rect x="269.50" y="561.00" width="1.50" height="4.00" fill="#8a8a90" />
<path fill="#cc6a3c" d="M212.36,599.00h4.48v1.52h-4.48zM211.24,600.52h6.72v1.52h-6.72zM211.24,602.04h6.72v1.52h-6.72zM210.12,603.56h8.96v1.52h-8.96zM210.12,605.08h8.96v1.52h-8.96zM210.12,606.60h3.36v1.52h-3.36zM215.72,606.60h3.36v1.52h-3.36zM209.00,608.12h4.48v1.52h-4.48zM215.72,608.12h4.48v1.52h-4.48zM209.00,609.64h3.36v1.52h-3.36zM216.84,609.64h3.36v1.52h-3.36z"/>
<path fill="#cc6a3c" d="M251.14,599.00h1.12v1.52h-1.12zM253.38,599.00h2.24v1.52h-2.24zM256.74,599.00h1.12v1.52h-1.12zM251.14,600.52h6.72v1.52h-6.72zM251.14,602.04h6.72v1.52h-6.72zM250.02,603.56h8.96v1.52h-8.96zM250.02,605.08h3.36v1.52h-3.36zM254.50,605.08h4.48v1.52h-4.48zM250.02,606.60h3.36v1.52h-3.36zM255.62,606.60h3.36v1.52h-3.36zM248.90,608.12h4.48v1.52h-4.48zM255.62,608.12h4.48v1.52h-4.48zM248.90,609.64h3.36v1.52h-3.36zM256.74,609.64h3.36v1.52h-3.36z"/>
<path fill="#cc6a3c" d="M292.26,599.00h4.48v1.52h-4.48zM291.14,600.52h6.72v1.52h-6.72zM291.14,602.04h6.72v1.52h-6.72zM290.02,603.56h8.96v1.52h-8.96zM290.02,605.08h8.96v1.52h-8.96zM290.02,606.60h3.36v1.52h-3.36zM295.62,606.60h3.36v1.52h-3.36zM288.90,608.12h4.48v1.52h-4.48zM295.62,608.12h4.48v1.52h-4.48zM288.90,609.64h3.36v1.52h-3.36zM296.74,609.64h3.36v1.52h-3.36z"/>
<path d="M264.6,624 L265.5,620.5 L268,620.5 L268.5,617 L270,617 L270.5,620.5 L273,620.5 L273.6,624 Z" fill="#3a8a45"/>
<path d="M155.8,627.4 H166 Q167,623.6 169,623.6 H355 V630.8 H155.8 Z" fill="#4e4e1e"/>
<rect x="197.90" y="624.60" width="3.50" height="2.10" fill="#3a8a45" />
<rect x="309.40" y="624.60" width="3.10" height="2.10" fill="#b09050" />
</g>
<text transform="matrix(0.30429 0 0 0.26167 232.19 687.44)" font-family='"Liberation Serif"' font-style="italic" font-weight="normal" font-size="200" fill="#000" stroke="#fff" stroke-width="1.529">s</text>
<text transform="matrix(0.27647 0 0 0.20660 257.96 667.96)" font-family='"Liberation Serif"' font-style="italic" font-weight="normal" font-size="200" fill="#000" stroke="#fff" stroke-width="1.936">n</text>
<text transform="matrix(0.25784 0 0 0.21670 255.40 699.63)" font-family='"Liberation Serif"' font-style="italic" font-weight="normal" font-size="200" fill="#000" stroke="#fff" stroke-width="0.692">t</text>
<rect x="449.2" y="451.3" width="52.6" height="227.5" fill="url(#go)" stroke="#e58f58" stroke-width="1.1"/>
<rect x="580" y="451.3" width="52.4" height="227.5" fill="url(#go)" stroke="#e58f58" stroke-width="1.1"/>
<rect x="765.6" y="435" width="55" height="261" fill="url(#go)" stroke="#e58f58" stroke-width="1.1"/>
<path fill="#000" d="M363.7,549 H407 V531.6 L440.6,565.55 L407,599.5 V582.5 H363.7 Z"/>
<path fill="#000" d="M508.3,551.1 H539.8 V533.9 L573,567.7 L539.8,601.5 V584.8 H508.3 Z"/>
<path fill="#000" d="M696,551.1 H727.4 V533.9 L761,567.7 L727.4,601.5 V584.8 H696 Z"/>
<rect x="649.4" y="567.4" width="6" height="6.8" rx="1.5" fill="#000"/>
<rect x="663" y="567.4" width="6" height="6.8" rx="1.5" fill="#000"/>
<rect x="676.5" y="567.4" width="6" height="6.8" rx="1.5" fill="#000"/>
<path fill="none" stroke="#ff0000" stroke-width="6.5" d="M429.1,424.4 H834 V712.6 H429.1 Z"/>
<rect x="787.40" y="581.30" width="6.80" height="6.60" fill="#000" />
<rect x="787.40" y="601.70" width="6.80" height="6.60" fill="#000" />
<rect x="787.40" y="622.00" width="6.80" height="6.60" fill="#000" />
<circle cx="792.5" cy="472.5" r="21.3" fill="url(#gc)" stroke="#eeae26" stroke-width="1.7"/>
<circle cx="793.4" cy="529.8" r="21.3" fill="url(#gc)" stroke="#eeae26" stroke-width="1.7"/>
<circle cx="794.9" cy="662.2" r="21.3" fill="url(#gc)" stroke="#eeae26" stroke-width="1.7"/>
<rect x="822" y="470.70" width="45" height="3.8" fill="#000"/><path fill="#000" d="M866,461.60 L888.5,472.60 L866,483.60 Z"/>
<rect x="822" y="542.10" width="45" height="3.8" fill="#000"/><path fill="#000" d="M866,533.00 L888,544.00 L866,555.00 Z"/>
<rect x="820" y="657.70" width="45" height="3.8" fill="#000"/><path fill="#000" d="M864,648.60 L886,659.60 L864,670.60 Z"/>
<rect x="898" y="437.4" width="155" height="69.6" fill="url(#gg)" stroke="#a9a9ab" stroke-width="1"/>
<text transform="matrix(0.22107 0 0 0.21399 946.92 487.77)" font-family='"Liberation Serif"' font-style="normal" font-weight="normal" font-size="200" fill="#000">left</text>
<rect x="898" y="516.2" width="155" height="69.8" fill="url(#gg)" stroke="#a9a9ab" stroke-width="1"/>
<text transform="matrix(0.22285 0 0 0.21813 933.01 567.12)" font-family='"Liberation Serif"' font-style="normal" font-weight="normal" font-size="200" fill="#000">right</text>
<rect x="898" y="619.8" width="155" height="70.0" fill="url(#gg)" stroke="#a9a9ab" stroke-width="1"/>
<text transform="matrix(0.22415 0 0 0.21608 944.86 670.07)" font-family='"Liberation Serif"' font-style="normal" font-weight="normal" font-size="200" fill="#000">fire</text>
<rect x="1092" y="469.90" width="174" height="5.4" fill="#000"/><path fill="#000" d="M1093,462.60 L1073.4,472.60 L1093,482.60 Z M1265,462.60 L1284.4,472.60 L1265,482.60 Z"/>
<rect x="1092" y="552.60" width="174" height="5.4" fill="#000"/><path fill="#000" d="M1093,545.30 L1073.4,555.30 L1093,565.30 Z M1265,545.30 L1284.4,555.30 L1265,565.30 Z"/>
<rect x="1092" y="659.90" width="174" height="5.4" fill="#000"/><path fill="#000" d="M1093,652.60 L1073.4,662.60 L1093,672.60 Z M1265,652.60 L1284.4,662.60 L1265,672.60 Z"/>
<text transform="matrix(0.22299 0 0 0.23913 1296.66 490.00)" font-family='"Liberation Sans"' font-style="normal" font-weight="normal" font-size="200" fill="#000">1</text>
<text transform="matrix(0.24167 0 0 0.22394 1295.47 572.75)" font-family='"Liberation Sans"' font-style="normal" font-weight="normal" font-size="200" fill="#000">0</text>
<text transform="matrix(0.24375 0 0 0.23451 1295.65 687.13)" font-family='"Liberation Sans"' font-style="normal" font-weight="normal" font-size="200" fill="#000">0</text>
<text transform="matrix(0.30407 0 0 0.26188 1360.50 482.90)" font-family='"Liberation Serif"' font-style="italic" font-weight="normal" font-size="200" fill="#000" stroke="#fff" stroke-width="2.100">a</text>
<text transform="matrix(0.27529 0 0 0.20128 1389.57 463.36)" font-family='"Liberation Serif"' font-style="italic" font-weight="normal" font-size="200" fill="#000" stroke="#fff" stroke-width="1.987">n</text>
<text transform="matrix(0.25784 0 0 0.21322 1390.20 494.63)" font-family='"Liberation Serif"' font-style="italic" font-weight="normal" font-size="200" fill="#000" stroke="#fff" stroke-width="0.704">t</text>
</svg>
</body></html>
